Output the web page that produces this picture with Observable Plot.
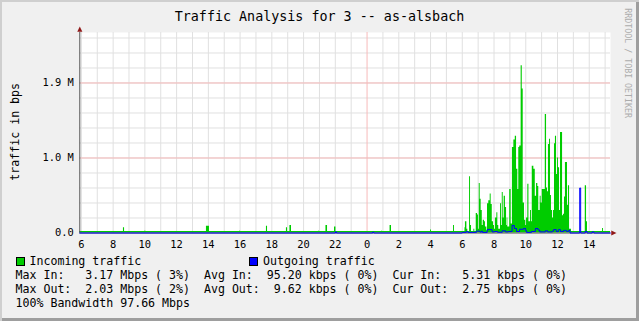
<!DOCTYPE html>
<html>
<head>
<meta charset="utf-8">
<script src="https://cdn.jsdelivr.net/npm/d3@7"></script>
<script src="https://cdn.jsdelivr.net/npm/@observablehq/plot@0.6"></script>
<style>
  html, body { margin: 0; padding: 0; background: #f0f0f0; }
  #wrap { position: relative; width: 639px; height: 321px; background: #f0f0f0; overflow: hidden;
          box-shadow: inset 2px 2px 0 #cfcfcf, inset -3px -3px 0 #9e9e9e; }
  #wrap svg { position: absolute; left: 0; top: 0; }
  .t { position: absolute; white-space: pre; line-height: 1; font-family: "DejaVu Sans Mono", monospace; color: #000; }
  .sw { position: absolute; width: 7px; height: 7px; border: 1px solid #000; }
</style>
</head>
<body>
<div id="wrap"></div>
<script>
// ---------- data (values in graph units; 1 unit = major grid "1.0 M") ----------
// time = hours since 06:00 of the first day
const inHours = [-0.1, 2.65, 2.72, 3.98, 4.07, 7.88, 8.07, 9.96, 10.03, 11.66, 11.73, 12.92, 12.99, 13.14, 13.24,
  14.94, 15.00, 15.41, 15.51, 15.95, 16.04, 18.91, 18.97, 19.45, 19.54, 22.00, 22.06, 23.45, 23.51,
  24.17, 24.20, 24.29, 24.35, 24.46, 24.52, 24.58, 24.73, 24.79, 24.88, 24.96, 25.02, 25.07, 25.13, 25.19,
  25.26, 25.32, 25.40, 25.46, 25.55, 25.59, 25.67, 25.76, 25.82, 25.89, 25.97, 26.03, 26.09, 26.18, 26.24,
  26.30, 26.41, 26.47, 26.52, 26.58, 26.64, 26.72, 26.79, 26.83, 26.87, 26.99, 27.08, 27.16, 27.25, 27.34,
  27.42, 27.50, 27.56, 27.62, 27.71, 27.78, 27.84, 27.92, 28.00, 28.05, 28.13, 28.20, 28.30, 28.36, 28.41,
  28.51, 28.60, 28.68, 28.76, 28.82, 28.91, 28.97, 29.04, 29.23, 29.31, 29.37, 29.43, 29.50, 29.56, 29.62,
  29.69, 29.75, 29.81, 29.87, 29.94, 30.00, 30.06, 30.13, 30.19, 30.32, 30.38, 30.44, 30.50, 30.63, 30.69,
  30.76, 30.88, 31.75, 31.83, 31.89, 32.84, 32.90, 33.34];
const inValues = [0.02, 0.07, 0.02, 0.025, 0.02, 0.09, 0.02, 0.025, 0.02, 0.09, 0.02, 0.07, 0.02, 0.1, 0.02,
  0.025, 0.02, 0.1, 0.02, 0.08, 0.02, 0.025, 0.02, 0.1, 0.02, 0.04, 0.02, 0.1, 0.02,
  0.07, 0.15, 0.05, 0.02, 0.75, 0.1, 0.02, 0.05, 0.02, 0.26, 0.24, 0.05, 0.66, 0.45, 0.3,
  0.1, 0.17, 0.15, 0.08, 0.03, 0.39, 0.43, 0.52, 0.38, 0.15, 0.1, 0.05, 0.2, 0.27, 0.1,
  0.05, 0.39, 0.1, 0.54, 0.2, 0.49, 0.34, 0.1, 0.2, 0.08, 0.58, 0.12, 1.14, 1.24, 1.29,
  0.85, 0.58, 1.14, 1.16, 2.23, 1.92, 0.4, 0.17, 0.1, 0.2, 0.65, 0.15, 0.3, 0.15, 0.89,
  0.85, 0.49, 0.66, 0.62, 0.3, 0.49, 0.4, 0.58, 1.58, 0.6, 0.55, 1.18, 1.25, 0.5, 0.3,
  0.2, 0.3, 1.19, 1.29, 0.78, 1.0, 0.87, 0.3, 1.34, 0.23, 0.25, 0.48, 0.94, 0.37, 0.63,
  0.05, 0.02, 0.63, 0.15, 0.02, 0.06, 0.02, 0.02];

const outHours = [-0.1, 16.01, 16.07, 18.36, 18.42, 24.00, 24.26, 24.35, 24.89, 25.11, 25.21, 25.27, 25.57, 25.88,
  26.03, 26.22, 26.52, 26.72, 26.91, 27.14, 27.28, 27.42, 27.61, 27.86, 27.99, 28.05, 28.36, 28.61, 28.77,
  28.88, 29.24, 29.37, 29.68, 29.75, 29.93, 30.06, 30.19, 30.38, 30.57, 30.69, 30.79, 31.40, 31.46, 31.75,
  31.86, 32.19, 32.29, 33.34];
const outValues = [0, 0.015, 0, 0.012, 0, 0.008, 0.02, 0.008, 0.025, 0.012, 0.025, 0.008, 0.045, 0.015,
  0.02, 0.01, 0.03, 0.015, 0.02, 0.1, 0.06, 0.02, 0.05, 0.06, 0.03, 0.008, 0.02, 0.06, 0.04,
  0.015, 0.03, 0.015, 0.025, 0.045, 0.02, 0.045, 0.02, 0.035, 0.02, 0.035, 0, 0.6, 0, 0.02,
  0, 0.015, 0, 0];

const xTickHours = [0, 2, 4, 6, 8, 10, 12, 14, 16, 18, 20, 22, 24, 26, 28, 30, 32];
const xTickLabels = ["6", "8", "10", "12", "14", "16", "18", "20", "22", "0", "2", "4", "6", "8", "10", "12", "14"];
const midnightHours = [18];
const yTicks = [0, 1, 2];
const yTickLabels = ["0.0", "1.0 M", "1.9 M"];

const titleText = "Traffic Analysis for 3 -- as-alsbach";
const yTitle = "traffic in bps";
const seriesNames = ["Incoming traffic", "Outgoing traffic"];
const seriesColors = ["#00cc00", "#0000ff"];
const statLines = [
  "Max In:   3.17 Mbps ( 3%)  Avg In:  95.20 kbps ( 0%)  Cur In:   5.31 kbps ( 0%)",
  "Max Out:  2.03 Mbps ( 2%)  Avg Out:  9.62 kbps ( 0%)  Cur Out:  2.75 kbps ( 0%)",
  "100% Bandwidth 97.66 Mbps"
];
const watermark = "RRDTOOL / TOBI OETIKER";

// ---------- build ----------
const xDomain = [-0.1, 33.34];
const yDomain = [0, 2.673];
const inData = inHours.map((h, i) => ({h, v: inValues[i]}));
const outData = outHours.map((h, i) => ({h, v: outValues[i]}));
const xLab = new Map(xTickHours.map((h, i) => [h, xTickLabels[i]]));
const yLab = new Map(yTicks.map((v, i) => [v, yTickLabels[i]]));
const minorX = d3.range(0, 34).filter(h => !midnightHours.includes(h));
const minorY = d3.range(1, 14).map(k => k * 0.2);

const triUp = {draw(ctx, size) { const r = Math.sqrt(size / Math.PI);
  ctx.moveTo(0, -r); ctx.lineTo(0.85 * r, 0.75 * r); ctx.lineTo(-0.85 * r, 0.75 * r); ctx.closePath(); }};
const triRight = {draw(ctx, size) { const r = Math.sqrt(size / Math.PI);
  ctx.moveTo(r, 0); ctx.lineTo(-0.75 * r, -0.85 * r); ctx.lineTo(-0.75 * r, 0.85 * r); ctx.closePath(); }};

const gridCol = "#e0e0e0", mgridCol = "#f7baba", axisCol = "#505050", arrowCol = "#901818";

const chart = Plot.plot({
  width: 639, height: 321,
  marginLeft: 79.3, marginRight: 29, marginTop: 32, marginBottom: 88.5,
  style: {background: "transparent", fontFamily: "DejaVu Sans Mono", fontSize: "10.4px", color: "#000", overflow: "visible"},
  x: {domain: xDomain, label: null},
  y: {domain: yDomain, label: null},
  marks: [
    Plot.frame({fill: "#ffffff", stroke: "none"}),
    Plot.gridX(minorX, {stroke: gridCol, strokeOpacity: 1}),
    Plot.gridY(minorY, {stroke: gridCol, strokeOpacity: 1}),
    Plot.ruleX(midnightHours, {stroke: mgridCol}),
    Plot.ruleY(yTicks.filter(v => v > 0), {stroke: mgridCol}),
    Plot.areaY(inData, {x: "h", y: "v", curve: "step-after", fill: seriesColors[0]}),
    Plot.ruleY([0], {stroke: axisCol}),
    Plot.ruleX([xDomain[0]], {stroke: axisCol}),
    Plot.line(outData, {x: "h", y: "v", curve: "step-after", stroke: seriesColors[1], strokeWidth: 1}),
    Plot.dot([null], {x: () => xDomain[0], y: () => yDomain[1], dy: -3, r: 3, symbol: triUp, fill: arrowCol, stroke: "none"}),
    Plot.dot([null], {x: () => xDomain[1], y: () => 0, dx: 3, r: 3, symbol: triRight, fill: arrowCol, stroke: "none"}),
    Plot.axisX(xTickHours, {tickSize: 0, tickPadding: 7.5, tickFormat: d => xLab.get(d), label: null, fontSize: 10.4}),
    Plot.axisY(yTicks, {tickSize: 0, tickPadding: 6, tickFormat: d => yLab.get(d), label: null, fontSize: 10.4})
  ]
});

const wrap = document.getElementById("wrap");
wrap.appendChild(chart);

function addText(txt, css) {
  const d = document.createElement("div");
  d.className = "t";
  d.textContent = txt;
  Object.assign(d.style, css);
  wrap.appendChild(d);
  return d;
}
function addSwatch(color, left, top) {
  const d = document.createElement("div");
  d.className = "sw";
  Object.assign(d.style, {background: color, left: left + "px", top: top + "px"});
  wrap.appendChild(d);
}

addText(titleText, {left: "0px", top: "10px", width: "639px", textAlign: "center", fontSize: "13.36px"});
addText(yTitle, {left: (16 - 60) + "px", top: (132 - 5.8) + "px", width: "120px", textAlign: "center",
  fontSize: "11.6px", transform: "rotate(-90deg)"});
addText(watermark, {left: (628.3 - 60) + "px", top: (62.7 - 4.15) + "px", width: "120px", textAlign: "center",
  fontSize: "8.3px", color: "#acacac", transform: "rotate(90deg)"});

addSwatch(seriesColors[0], 16, 257);
addText(seriesNames[0], {left: "29.5px", top: "256px", fontSize: "11.6px"});
addSwatch(seriesColors[1], 249, 257);
addText(seriesNames[1], {left: "263px", top: "256px", fontSize: "11.6px"});
const statTops = [269.7, 283.9, 298.0];
statLines.forEach((s, i) => addText(s, {left: "15.5px", top: statTops[i] + "px", fontSize: "11.6px"}));
</script>
</body>
</html>
